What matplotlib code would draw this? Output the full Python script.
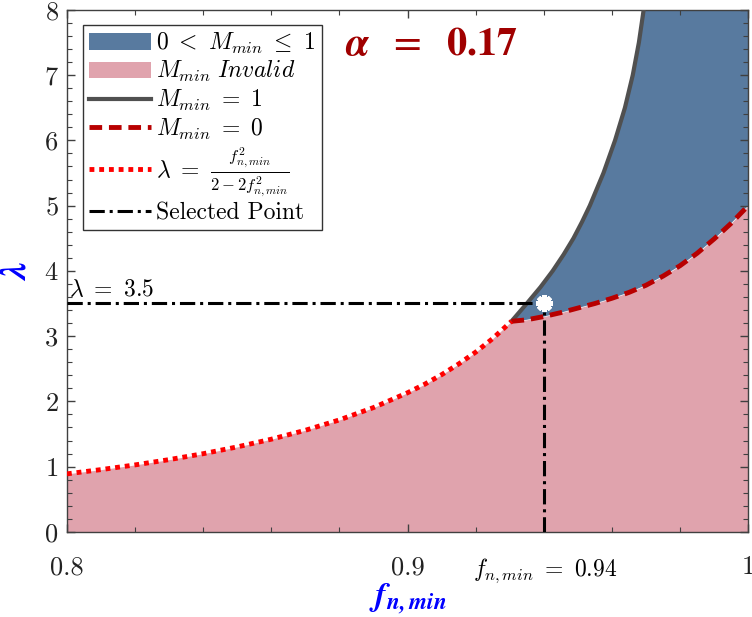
import numpy as np
import matplotlib
matplotlib.use("Agg")
import matplotlib.pyplot as plt
from matplotlib.ticker import MultipleLocator

plt.rcParams['font.family'] = 'serif'
plt.rcParams['font.serif'] = ['cmr10', 'DejaVu Serif']
plt.rcParams['mathtext.fontset'] = 'cm'
plt.rcParams['axes.formatter.use_mathtext'] = True

# boundary lambda = f^2 / (2 - 2 f^2)
f_bound = [0.80, 0.81, 0.82, 0.83, 0.84, 0.85, 0.86, 0.87, 0.88, 0.89,
           0.90, 0.905, 0.91, 0.915, 0.92, 0.925, 0.9305]
lam_bound = [0.889, 0.954, 1.026, 1.107, 1.198, 1.302, 1.420, 1.557, 1.716,
             1.905, 2.132, 2.262, 2.409, 2.573, 2.755, 2.963, 3.227]

# M_min = 0 curve
f_m0 = [0.9305, 0.935, 0.940, 0.945, 0.950, 0.955, 0.960, 0.965, 0.970,
        0.975, 0.980, 0.985, 0.990, 0.995, 1.000]
lam_m0 = [3.227, 3.25, 3.30, 3.36, 3.43, 3.50, 3.58, 3.67, 3.78,
          3.92, 4.08, 4.27, 4.49, 4.73, 5.00]

# M_min = 1 curve
lam_m1 = [3.227, 3.5, 3.75, 4.0, 4.25, 4.5, 4.75, 5.0, 5.5, 6.0, 6.5,
          7.0, 7.5, 8.0]
f_m1 = [0.9305, 0.9350, 0.9390, 0.9426, 0.9458, 0.9487, 0.9512, 0.9535,
        0.9575, 0.9609, 0.9638, 0.9661, 0.9679, 0.9693]

# selected design point
f_sel = 0.94
lam_sel = 3.5
alpha = 0.17

c_blue = '#587a9f'
c_pink = '#e0a3ad'
c_gray = '#505050'
c_dred = '#b80000'

fig = plt.figure(figsize=(7.52, 6.17), dpi=100)
ax = fig.add_axes([0.089, 0.138, 0.906, 0.846])

# regions
x_pink = np.concatenate([f_bound, f_m0[1:]])
y_pink = np.concatenate([lam_bound, lam_m0[1:]])
ax.fill_between(x_pink, 0, y_pink, color=c_pink, lw=0, label=r'$M_{min}\ Invalid$', zorder=1)

x_blue = list(f_m1) + [1.0] + list(f_m0[::-1])
y_blue = list(lam_m1) + [8.0] + list(lam_m0[::-1])
ax.fill(x_blue, y_blue, color=c_blue, lw=0, label=r'$0\ <\ M_{min}\ \leq\ 1$', zorder=1)

# curves
ax.plot(f_m1, lam_m1, color=c_gray, lw=3, label=r'$M_{min}\ =\ 1$', zorder=3)
ax.plot(f_m0, lam_m0, color=c_dred, lw=3.5, ls=(0, (2.6, 1.4)),
        label=r'$M_{min}\ =\ 0$', zorder=3)
ax.plot(f_bound, lam_bound, color='#ff0000', lw=3.5, ls=(0, (1, 1)),
        label=r'$\lambda\ =\ \frac{f_{n,min}^2}{2-2f_{n,min}^2}$', zorder=3)

# selected point guides
dashdot = (0, (5, 1.6, 1, 1.6))
ax.plot([0.8, f_sel], [lam_sel, lam_sel], color='black', lw=2.2, ls=dashdot,
        label='Selected Point', zorder=4)
ax.plot([f_sel, f_sel], [0, lam_sel], color='black', lw=2.2, ls=dashdot, zorder=4)
ax.plot([f_sel], [lam_sel], marker=(8, 2, 0), ms=12, mew=3.2, color='white', zorder=5)

ax.text(0.8005, lam_sel + 0.04, r'$\lambda\ =\ 3.5$', fontsize=17, ha='left', va='bottom')
ax.text(f_sel + 0.0005, -0.38, r'$f_{n,min}\ =\ 0.94$', fontsize=17, ha='center', va='top',
        clip_on=False)

ax.text(0.907, 7.46, r'$\mathbfit{\alpha}\ \ =\ \ \mathbf{0.17}$', fontsize=29,
        color='#a00000', ha='center', va='center', math_fontfamily='stix')

ax.set_xlim(0.8, 1.0)
ax.set_ylim(0, 8)
ax.set_xticks([0.8, 0.9, 1.0])
ax.set_xticklabels(['0.8', '0.9', '1'])
ax.set_yticks(range(0, 9))
ax.xaxis.set_minor_locator(MultipleLocator(0.02))
ax.yaxis.set_minor_locator(MultipleLocator(0.2))
ax.tick_params(which='both', direction='in', top=True, right=True, colors='#404040',
               labelcolor='#222222', labelsize=19)
ax.tick_params(which='major', length=6, width=1)
ax.tick_params(which='minor', length=3.5, width=0.8)
ax.tick_params(axis='x', pad=17)
ax.tick_params(axis='y', pad=6)
for s in ax.spines.values():
    s.set_color('#404040')
    s.set_linewidth(1)

ax.set_xlabel(r'$\mathbfit{f}_{\mathbfit{n,min}}$', fontsize=24, color='#0000ff',
              math_fontfamily='stix', va='center')
ax.xaxis.set_label_coords(0.5, -0.128)
ax.set_ylabel(r'$\mathbfit{\lambda}$', fontsize=26, color='#0000ff', labelpad=8,
              math_fontfamily='stix')

handles, labels = ax.get_legend_handles_labels()
wanted = [r'$0\ <\ M_{min}\ \leq\ 1$', r'$M_{min}\ Invalid$', r'$M_{min}\ =\ 1$',
          r'$M_{min}\ =\ 0$', r'$\lambda\ =\ \frac{f_{n,min}^2}{2-2f_{n,min}^2}$',
          'Selected Point']
order = [labels.index(l) for l in wanted]
leg = ax.legend([handles[i] for i in order], [labels[i] for i in order],
                loc='upper left', bbox_to_anchor=(0.024, 0.971), fontsize=17,
                fancybox=False, framealpha=1, edgecolor='#333333', handlelength=2.6,
                handletextpad=0.25, borderpad=0.25, labelspacing=0.15, borderaxespad=0)
leg.get_frame().set_linewidth(1)
leg.set_zorder(10)

fig.savefig('out.png', dpi=100)
